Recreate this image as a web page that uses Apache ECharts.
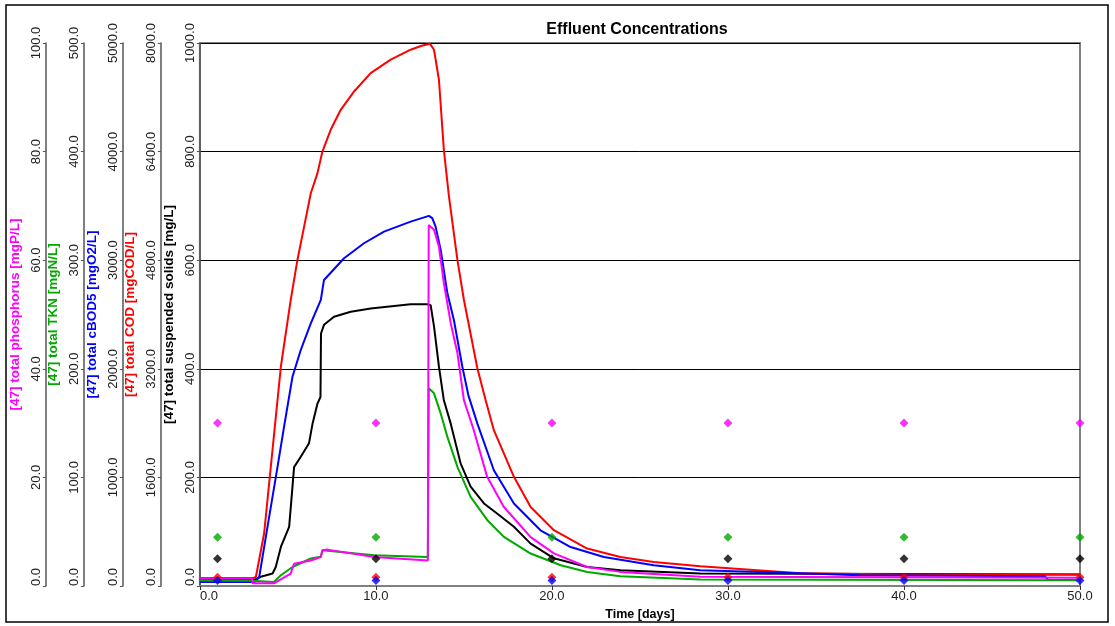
<!DOCTYPE html>
<html>
<head>
<meta charset="utf-8">
<script src="https://cdn.jsdelivr.net/npm/echarts@6/dist/echarts.min.js"></script>
<style>
  html, body { margin: 0; padding: 0; background: #fff; }
  #chart { width: 1115px; height: 626px; }
</style>
</head>
<body>
<div id="chart"></div>
<script>
// [day, value]
const tssLine = [[0,12],[3.15,12],[3.46,17],[4.13,23],[4.31,35],[4.6,72],[5.07,109],[5.26,183],[5.35,219],[5.73,238],[6.2,263],[6.4,299],[6.68,336],[6.85,348],[6.88,465],[7.05,481],[7.62,496],[8.57,505],[9.7,511],[11.97,519],[12.92,519],[13.11,517],[13.3,478],[13.58,404],[13.86,342],[14.25,299],[14.81,226],[15.38,183],[16.14,152],[16.9,133],[17.84,109],[18.79,78],[20.11,51],[22.0,35],[23.89,29],[28.43,23],[40,22],[50,21]]
const codLine = [[0,118],[3.05,118],[3.18,133],[3.65,777],[4.22,2252],[4.6,3230],[4.88,3727],[5.16,4214],[5.54,4804],[5.92,5295],[6.3,5787],[6.68,6083],[6.96,6401],[7.43,6721],[8.0,7016],[8.76,7286],[9.7,7557],[10.84,7754],[11.97,7901],[12.6,7960],[13.07,7990],[13.3,7901],[13.58,7459],[13.86,6426],[14.15,5737],[14.63,4804],[15.0,4214],[15.76,3211],[16.23,2739],[16.7,2296],[17.84,1608],[18.79,1165],[20.11,822],[22.0,552],[23.89,428],[25.78,354],[28.43,291],[34.1,187],[39.8,168],[50,168]]
const bodLine = [[0,37],[3.1,37],[3.37,83],[3.84,544],[4.41,1097],[4.78,1466],[5.26,1927],[5.73,2173],[6.3,2419],[6.87,2634],[7.05,2818],[8.19,3018],[9.32,3156],[10.46,3263],[11.97,3355],[13.01,3408],[13.2,3387],[13.39,3309],[13.68,3094],[14.06,2695],[14.43,2449],[14.91,2019],[15.25,1758],[15.76,1497],[16.7,1066],[17.84,760],[19.35,513],[21.06,359],[22.95,267],[25.78,191],[28.43,145],[34.1,117],[37.5,99],[48,90],[48.2,55],[50,55]]
const tknLine = [[0,5.0],[2.95,4.8],[3.0,3.7],[4.2,3.7],[4.6,9.9],[5.26,17.5],[6.3,25.3],[6.87,27],[6.96,33],[7.05,33.6],[9.9,28.3],[12.95,26.7],[13.0,182],[13.07,182],[13.3,177.4],[13.68,158.9],[14.06,137.3],[14.63,109.7],[15.38,82],[16.33,60.6],[17.27,45.2],[18.79,29.9],[20.5,19.1],[22.0,12.9],[23.89,8.9],[28.43,5.9],[50,5.3]]
const phosLine = [[0,1.4],[2.95,1.4],[3.0,0.5],[4.2,0.5],[5.16,2.3],[5.35,4.1],[6.3,4.7],[6.87,5.35],[6.96,6.6],[7.25,6.7],[9.9,5.35],[12.95,4.7],[13.0,66.5],[13.11,66.8],[13.3,65.6],[13.58,62.5],[13.86,55.8],[14.25,48.4],[14.63,42.9],[15.0,34.2],[15.56,28.7],[16.32,20.1],[17.26,14.6],[18.79,9.0],[20.11,6.0],[22.0,3.5],[23.89,2.6],[28.43,1.7],[50,1.5]]

// measured samples (diamonds)
const sampleDays = [1, 10, 20, 30, 40, 50]
const tssSamples = [50, 50, 50, 50, 50, 50]
const codSamples = [130, 130, 130, 130, 130, 130]
const bodSamples = [50, 50, 50, 50, 50, 50]
const tknSamples = [45, 45, 45, 45, 45, 45]
const phosSamples = [30, 30, 30, 30, 30, 30]

const axisNames = ['[47] total suspended solids [mg/L]', '[47] total COD [mgCOD/L]', '[47] total cBOD5 [mgO2/L]', '[47] total TKN [mgN/L]', '[47] total phosphorus [mgP/L]']
const axisMax = [1000, 8000, 5000, 500, 100]
const xTicks = [0, 10, 20, 30, 40, 50]

const FONT = '"Liberation Sans", Arial, sans-serif'
const colors = ['#000000', '#ff0000', '#0000ff', '#00a800', '#ff00ff']
const offsets = [0, 39, 77, 116, 154]

function yAxis(i) {
  return {
    type: 'value',
    position: 'left',
    offset: offsets[i],
    min: 0,
    max: axisMax[i],
    interval: axisMax[i] / 5,
    name: axisNames[i],
    nameLocation: 'middle',
    nameGap: 15,
    nameTextStyle: { color: colors[i], fontWeight: 'bold', fontSize: 13.5, fontFamily: FONT },
    axisLine: { show: true, lineStyle: { color: '#555', width: 1.5 } },
    axisTick: { show: true, length: 3, lineStyle: { color: '#555' } },
    axisLabel: {
      rotate: 90, margin: 3, fontSize: 13, color: '#222', fontFamily: FONT,
      alignMinLabel: 'left', formatter: v => v.toFixed(1)
    },
    splitLine: { show: i === 0, lineStyle: { color: '#000', width: 1 } }
  }
}

function lineSeries(data, i) {
  return { type: 'line', yAxisIndex: i, data, symbol: 'none', lineStyle: { color: colors[i], width: 2 }, z: 2 + i }
}

function sampleSeries(vals, i) {
  return {
    type: 'scatter', yAxisIndex: i, symbol: 'diamond', symbolSize: 9, z: 10,
    itemStyle: { color: colors[i] },
    data: sampleDays.map((d, k) => [d, vals[k]])
  }
}

const chart = echarts.init(document.getElementById('chart'))
chart.setOption({
  animation: false,
  backgroundColor: '#fff',
  title: {
    text: 'Effluent Concentrations', left: 632, top: 17, textAlign: 'center',
    textStyle: { fontSize: 16, fontWeight: 'bold', color: '#000', fontFamily: FONT }
  },
  graphic: [{
    type: 'rect', shape: { x: 6, y: 5, width: 1102, height: 617 },
    style: { fill: 'none', stroke: '#000', lineWidth: 1.5 }, z: -1
  }],
  grid: { left: 199, right: 35, top: 43, bottom: 40, show: true, borderColor: '#808080', borderWidth: 2 },
  xAxis: {
    type: 'value', min: xTicks[0], max: xTicks[xTicks.length - 1], interval: 10,
    name: 'Time [days]', nameLocation: 'middle', nameGap: 20,
    nameTextStyle: { color: '#000', fontWeight: 'bold', fontSize: 12.5, fontFamily: FONT },
    axisLine: { lineStyle: { color: '#808080', width: 2 } },
    axisTick: { length: 4, lineStyle: { color: '#333' } },
    axisLabel: {
      fontSize: 13, color: '#222', margin: 4, fontFamily: FONT,
      alignMinLabel: 'left', formatter: v => v.toFixed(1)
    },
    splitLine: { show: false }
  },
  yAxis: [0, 1, 2, 3, 4].map(yAxis),
  series: [
    lineSeries(tssLine, 0),
    lineSeries(codLine, 1),
    lineSeries(bodLine, 2),
    lineSeries(tknLine, 3),
    lineSeries(phosLine, 4),
    sampleSeries(tssSamples, 0),
    sampleSeries(codSamples, 1),
    sampleSeries(bodSamples, 2),
    sampleSeries(tknSamples, 3),
    sampleSeries(phosSamples, 4)
  ]
})
</script>
</body>
</html>
